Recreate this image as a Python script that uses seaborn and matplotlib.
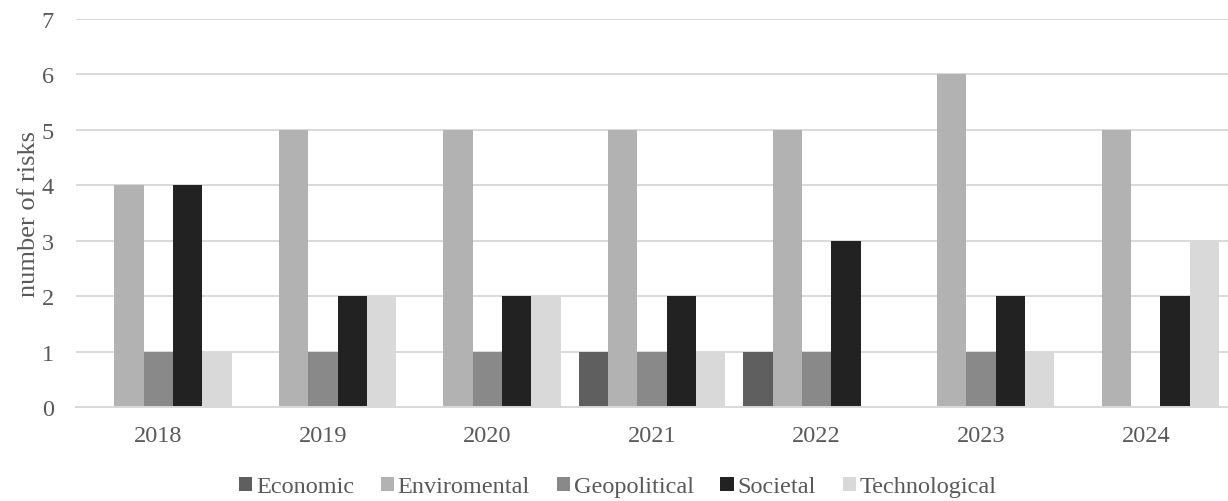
import matplotlib
matplotlib.use("Agg")
import matplotlib.pyplot as plt
from matplotlib.patches import Rectangle
import seaborn as sns
import pandas as pd

years = ["2018", "2019", "2020", "2021", "2022", "2023", "2024"]
categories = ["Economic", "Enviromental", "Geopolitical", "Societal", "Technological"]
economic = [0, 0, 0, 1, 1, 0, 0]
enviromental = [4, 5, 5, 5, 5, 6, 5]
geopolitical = [1, 1, 1, 1, 1, 1, 0]
societal = [4, 2, 2, 2, 3, 2, 2]
technological = [1, 2, 2, 1, 0, 1, 3]
colors = ["#5f5f5f", "#b2b2b2", "#898989", "#222222", "#d9d9d9"]

series = [economic, enviromental, geopolitical, societal, technological]
rows = []
for cat, vals in zip(categories, series):
    for yr, v in zip(years, vals):
        rows.append({"year": yr, "category": cat, "count": v})
df = pd.DataFrame(rows)

sns.set_theme(style="white")
plt.rcParams["font.family"] = ["Liberation Serif", "DejaVu Serif"]
text_color = "#595959"
fs = 17.5

fig = plt.figure(figsize=(12.28, 5.02), dpi=100)
ax = fig.add_axes([76 / 1228, 94 / 502, 1 - 76 / 1228, 388 / 502])

sns.barplot(data=df, x="year", y="count", hue="category", order=years,
            hue_order=categories, palette=colors, width=0.89, saturation=1,
            linewidth=0, legend=False, ax=ax)

ax.set_ylim(0, 7)
ax.set_yticks(range(0, 8))
ax.set_axisbelow(True)
ax.yaxis.grid(True, color="#d9d9d9", linewidth=1.4)
ax.xaxis.grid(False)
for side in ["top", "right", "left"]:
    ax.spines[side].set_visible(False)
ax.spines["bottom"].set_color("#d9d9d9")
ax.spines["bottom"].set_linewidth(1.4)
ax.tick_params(axis="both", length=0, labelsize=fs, colors=text_color)
ax.tick_params(axis="y", pad=16)
ax.tick_params(axis="x", pad=13)
ax.set_xlabel("")
ax.set_ylabel("number of risks", fontsize=19, color=text_color, labelpad=1)

handles = [Rectangle((0, 0), 1, 1, facecolor=c, edgecolor="none") for c in colors]
fig.legend(handles, categories, loc="center", bbox_to_anchor=(0.503, 1 - 488 / 502),
           ncol=5, frameon=False, fontsize=fs, labelcolor=text_color,
           handlelength=0.55, handleheight=0.55, handletextpad=0.15,
           columnspacing=1.1, borderaxespad=0)

fig.savefig("out.png", dpi=100)
